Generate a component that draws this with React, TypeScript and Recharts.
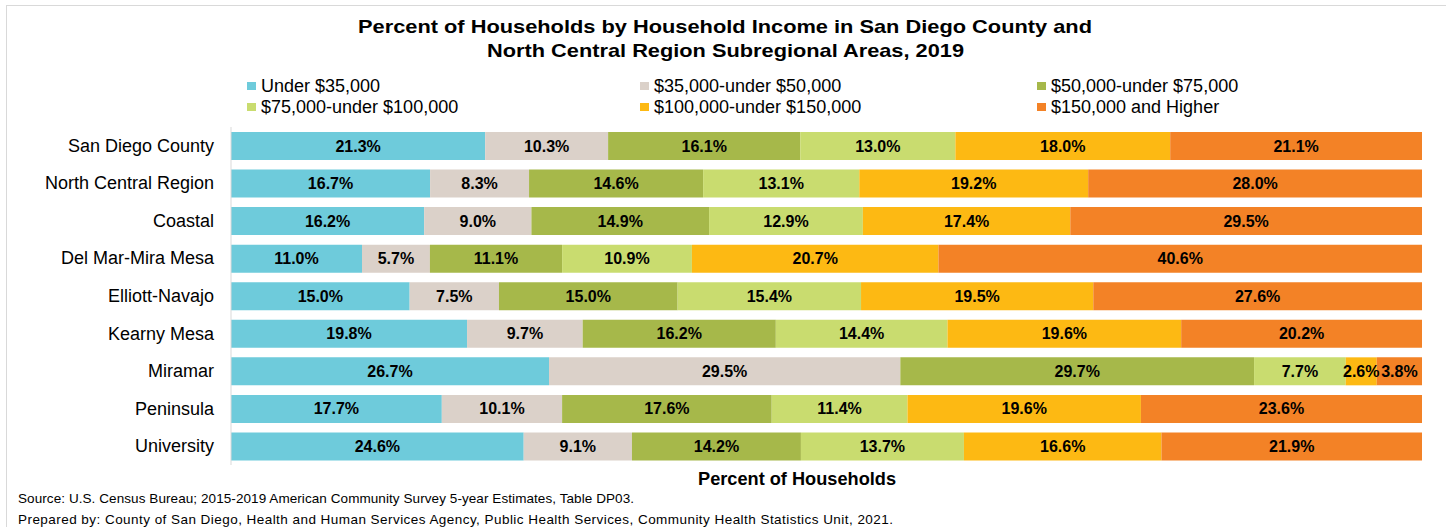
import React from 'react';
import { BarChart, Bar, XAxis, YAxis, LabelList } from 'recharts';

// regions, top to bottom
const areas = [
  'San Diego County',
  'North Central Region',
  'Coastal',
  'Del Mar-Mira Mesa',
  'Elliott-Navajo',
  'Kearny Mesa',
  'Miramar',
  'Peninsula',
  'University',
];

const under35 = [21.3, 16.7, 16.2, 11.0, 15.0, 19.8, 26.7, 17.7, 24.6];
const from35to50 = [10.3, 8.3, 9.0, 5.7, 7.5, 9.7, 29.5, 10.1, 9.1];
const from50to75 = [16.1, 14.6, 14.9, 11.1, 15.0, 16.2, 29.7, 17.6, 14.2];
const from75to100 = [13.0, 13.1, 12.9, 10.9, 15.4, 14.4, 7.7, 11.4, 13.7];
const from100to150 = [18.0, 19.2, 17.4, 20.7, 19.5, 19.6, 2.6, 19.6, 16.6];
const over150 = [21.1, 28.0, 29.5, 40.6, 27.6, 20.2, 3.8, 23.6, 21.9];

const seriesNames = [
  'Under $35,000',
  '$35,000-under $50,000',
  '$50,000-under $75,000',
  '$75,000-under $100,000',
  '$100,000-under $150,000',
  '$150,000 and Higher',
];
const seriesKeys = ['s1', 's2', 's3', 's4', 's5', 's6'];
const seriesColors = ['#6ECBDB', '#DBD1C9', '#A6B84A', '#C9DC6F', '#FDB913', '#F38226'];

const data = areas.map((name, i) => ({
  name,
  s1: under35[i],
  s2: from35to50[i],
  s3: from50to75[i],
  s4: from75to100[i],
  s5: from100to150[i],
  s6: over150[i],
}));

const FONT = 'Arial, "Liberation Sans", Helvetica, sans-serif';

const renderLabel = (props: any) => {
  const { x, y, width, height, value } = props;
  return (
    <text
      x={Number(x) + Number(width) / 2}
      y={Number(y) + Number(height) / 2}
      textAnchor="middle"
      dominantBaseline="central"
      fontFamily={FONT}
      fontWeight="bold"
      fontSize={16}
      fill="#000"
    >
      {Number(value).toFixed(1)}%
    </text>
  );
};

const AreaTick = (props: any) => {
  const { y, payload } = props;
  return (
    <text x={214} y={y} textAnchor="end" dominantBaseline="central" fontFamily={FONT} fontSize={18} fill="#000">
      {payload.value}
    </text>
  );
};

const legendCols = [247, 640, 1037];

export default function App() {
  return (
    <div style={{ position: 'absolute', left: 0, top: 0, width: 1446, height: 527, background: '#fff', fontFamily: FONT, overflow: 'hidden' }}>
      <div style={{ position: 'absolute', left: 6, top: 5, width: 1446, height: 600, border: '1px solid #D9D9D9', boxSizing: 'border-box' }} />
      {seriesNames.map((n, i) => (
        <div
          key={n}
          style={{ position: 'absolute', left: legendCols[i % 3], top: i < 3 ? 75 : 96, height: 22, display: 'flex', alignItems: 'center', fontSize: 18, color: '#000', whiteSpace: 'nowrap' }}
        >
          <span style={{ display: 'inline-block', width: 9, height: 8, background: seriesColors[i], marginRight: 5 }} />
          {n}
        </div>
      ))}
      <div style={{ position: 'absolute', left: 0, top: 0 }}>
        <BarChart
          width={1446}
          height={527}
          data={data}
          layout="vertical"
          stackOffset="expand"
          margin={{ top: 127, right: 24, bottom: 62, left: 0 }}
        >
          <XAxis type="number" hide domain={[0, 1]} />
          <YAxis
            type="category"
            dataKey="name"
            width={231}
            tickLine={false}
            axisLine={{ stroke: '#D9D9D9' }}
            tick={<AreaTick />}
          />
          {seriesKeys.map((k, i) => (
            <Bar key={k} dataKey={k} name={seriesNames[i]} stackId="a" fill={seriesColors[i]} barSize={28} isAnimationActive={false}>
              <LabelList dataKey={k} content={renderLabel} />
            </Bar>
          ))}
        </BarChart>
      </div>
      <svg width={1446} height={527} style={{ position: 'absolute', left: 0, top: 0, pointerEvents: 'none' }} fontFamily={FONT}>
        <text x={358} y={33} fontSize={19} fontWeight="bold" textLength={734} lengthAdjust="spacingAndGlyphs">
          Percent of Households by Household Income in San Diego County and
        </text>
        <text x={487} y={57} fontSize={19} fontWeight="bold" textLength={477} lengthAdjust="spacingAndGlyphs">
          North Central Region Subregional Areas, 2019
        </text>
        <text x={698} y={485} fontSize={18} fontWeight="bold" textLength={198} lengthAdjust="spacingAndGlyphs">
          Percent of Households
        </text>
        <text x={18} y={503} fontSize={13.5} textLength={616} lengthAdjust="spacing">
          Source: U.S. Census Bureau; 2015-2019 American Community Survey 5-year Estimates, Table DP03.
        </text>
        <text x={18} y={524} fontSize={13.5} textLength={875} lengthAdjust="spacing">
          Prepared by: County of San Diego, Health and Human Services Agency, Public Health Services, Community Health Statistics Unit, 2021.
        </text>
      </svg>
    </div>
  );
}
